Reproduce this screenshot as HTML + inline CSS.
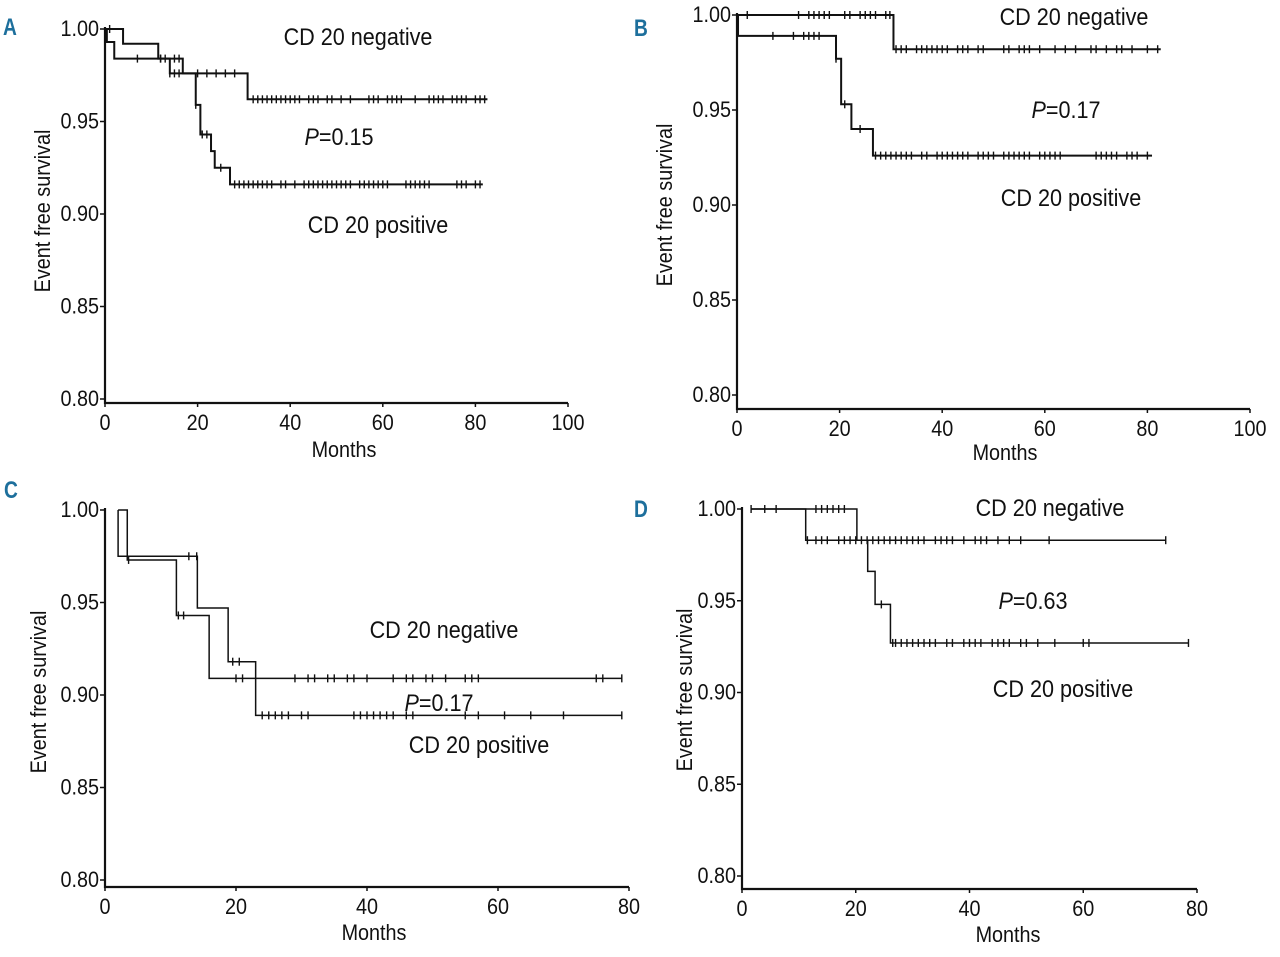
<!DOCTYPE html>
<html><head><meta charset="utf-8"><style>
html,body{margin:0;padding:0;background:#fff;}
svg{display:block;}
</style></head><body>
<svg id="fig" width="1280" height="957" viewBox="0 0 1280 957" xmlns="http://www.w3.org/2000/svg"></svg>
<script>
// ---- Data: panel A ----
const aNegSteps = [[0,1.0],[3.9,0.992],[11.5,0.984],[16.8,0.976],[30.8,0.962]];
const aNegEnd = 82.6;
const aNegCensor = [1,12,15,16,20,22,24,26,28,32,33,34,35,36,37,38,39,40,41,42,44,45,46,48,49,51,53,57,58,59,61,62,63,64,67,70,71,72,73,75,76,77,78,80,81,82];
const aPosSteps = [[0,1.0],[0.4,0.993],[2,0.984],[14,0.976],[19.6,0.959],[20.6,0.943],[22.9,0.934],[23.7,0.925],[27,0.916]];
const aPosEnd = 81.6;
const aPosCensor = [7,12,13,14,15,16,19.6,21,22,25,28,29,30,31,32,33,34,35,36,38,39,41,43,44,45,46,47,48,49,50,51,52,53,55,56,57,58,59,60,61,65,66,67,68,69,70,76,77,78,80,81];
// ---- Data: panel B ----
const bNegSteps = [[0,1.0],[30.5,0.982]];
const bNegEnd = 82.6;
const bNegCensor = [2,12,14,15,16,17,18,21,22,24,25,26,27,29,29.8,31,32,33,35,36,37,38,39,40,41,43,44,45,47,48,52,53,55,56,57,59,62,64,66,69,70,72,74,75,77,80,82];
const bPosSteps = [[0,1.0],[0.2,0.989],[19.3,0.977],[20.3,0.953],[22.3,0.940],[26.5,0.926]];
const bPosEnd = 80.9;
const bPosCensor = [7,11,13,14,15,16,19.3,21,24,27,28,29,30,31,32,33,34,36,37,39,40,41,42,43,44,45,47,48,49,50,52,53,54,55,56,57,59,60,61,62,63,70,71,72,73,74,76,77,78,80];
// ---- Data: panel C ----
const cNegSteps = [[2,1.0],[3.4,0.973],[10.9,0.943],[15.9,0.909]];
const cNegEnd = 78.9;
const cNegCensor = [3.6,11.2,12,20,21,29,31,32,34,35,37,38,40,44,46,47,49,50,52,55,56,57,75,76,78.9];
const cPosSteps = [[2,1.0],[2,0.975],[14.1,0.947],[18.8,0.918],[23,0.889]];
const cPosEnd = 78.9;
const cPosCensor = [12.8,14,19.5,20.5,24,25,26,27,28,30,31,38,39,40,41,42,43,44,46,47,55,57,61,65,70,78.9];
// ---- Data: panel D ----
const dNegSteps = [[1.6,1.0],[11.2,0.983]];
const dNegEnd = 74.5;
const dNegCensor = [1.6,4,6,11.5,13,14,15,17,18,19,20,21,23,24,25,26,27,28,29,30,31,32,34,35,36,37,39,41,42,43,45,47,49,54,74.5];
const dPosSteps = [[1.6,1.0],[20.2,0.983],[22.1,0.966],[23.4,0.948],[26.1,0.927]];
const dPosEnd = 78.5;
const dPosCensor = [13,14,15,16,17,18,22,24.5,26.5,27,28,29,30,31,32,33,34,36,37,39,40,41,42,44,45,46,47,49,50,52,55,60,61,78.5];

const yTicks = [1.00,0.95,0.90,0.85,0.80];
const yTickLabels = ["1.00","0.95","0.90","0.85","0.80"];
const xTicksAB = [0,20,40,60,80,100];
const xTicksCD = [0,20,40,60,80];

const svg = document.getElementById('fig');
const NS = 'http://www.w3.org/2000/svg';
function el(tag, attrs, parent){
  const e = document.createElementNS(NS, tag);
  for (const k in attrs) e.setAttribute(k, attrs[k]);
  (parent||svg).appendChild(e);
  return e;
}
function txt(parent, x, y, s, size, anchor, sx, extra){
  const t = document.createElementNS(NS,'text');
  t.setAttribute('transform', 'translate('+x+','+y+') '+(extra||'')+' scale('+sx+',1)');
  t.setAttribute('font-family','"Liberation Sans", Arial, sans-serif');
  t.setAttribute('font-size', size);
  t.setAttribute('text-anchor', anchor);
  t.setAttribute('fill','#111');
  t.textContent = s;
  parent.appendChild(t);
  return t;
}

function panel(cfg){
  const g = el('g', {});
  
  
  const X = m => cfg.x0 + (m / cfg.xmax) * (cfg.x1 - cfg.x0);
  const Y = s => cfg.y100 + ((1.0 - s) / 0.2) * (cfg.y80 - cfg.y100);
  const L = txt(g, cfg.letter[0], cfg.letter[1], cfg.letter[2], 24, 'start', 0.8);
  L.setAttribute('fill', '#1d6f9c'); L.setAttribute('font-weight','bold');
  
  
  const ax = el('path', {d:'M'+cfg.x0+','+(cfg.y100-2)+' L'+cfg.x0+','+cfg.axisY+' L'+cfg.x1+','+cfg.axisY, stroke:'#111', 'stroke-width':2.2, fill:'none'}, g);
  
  
  yTicks.forEach((v,i)=>{
    el('line',{x1:cfg.x0-5,x2:cfg.x0,y1:Y(v),y2:Y(v),stroke:'#111','stroke-width':1.5},g);
    const t = txt(g, cfg.x0-6, Y(v)+7, yTickLabels[i], 22, 'end', 0.9);
    
    
  });
  cfg.xticks.forEach(v=>{
    el('line',{x1:X(v),x2:X(v),y1:cfg.axisY,y2:cfg.axisY+4,stroke:'#111','stroke-width':1.5},g);
    const t = txt(g, X(v), cfg.axisY+27, String(v), 22, 'middle', 0.9);
    
    
  });
  const xt = txt(g, cfg.months[0], cfg.months[1], 'Months', 22, 'middle', 0.9);
  
  
  const yt = txt(g, cfg.ytitle[0], cfg.ytitle[1], 'Event free survival', 22, 'middle', 0.9, 'rotate(-90)');
  
  
  cfg.series.forEach(sr=>{
    const st = sr.steps;
    let d = 'M'+X(st[0][0])+','+Y(st[0][1]);
    for (let i=1;i<st.length;i++){
      d += ' L'+X(st[i][0])+','+Y(st[i-1][1])+' L'+X(st[i][0])+','+Y(st[i][1]);
    }
    d += ' L'+X(sr.end)+','+Y(st[st.length-1][1]);
    const p = el('path',{d:d,stroke:'#111','stroke-width':cfg.sw,fill:'none'},g);
    
    
    const surv = m => { let s = st[0][1]; for (const [t,v] of st) if (t<=m) s=v; return s; };
    sr.censor.forEach(m=>{
      const c = el('line',{x1:X(m),x2:X(m),y1:Y(surv(m))-4,y2:Y(surv(m))+4,stroke:'#111','stroke-width':1.4},g);
      
      
    });
  });
  cfg.labels.forEach(l=>{
    const t = txt(g, l[0], l[1], l[2], 24, 'middle', 0.9);
    
    
    if (l[2].startsWith('P=')){
      t.textContent = '';
      const i1 = document.createElementNS(NS,'tspan'); i1.setAttribute('font-style','italic'); i1.textContent='P';
      const i2 = document.createElementNS(NS,'tspan'); i2.textContent=l[2].slice(1);
      t.appendChild(i1); t.appendChild(i2);
    }
  });
}

panel({name:'panel-a', x0:105, x1:568, xmax:100, y100:29, y80:399, axisY:403, sw:2,
  xticks:xTicksAB, letter:[3,35,'A'], months:[344,457], ytitle:[50,211],
  series:[{name:'cd20-negative-curve',steps:aNegSteps,end:aNegEnd,censor:aNegCensor},
          {name:'cd20-positive-curve',steps:aPosSteps,end:aPosEnd,censor:aPosCensor}],
  labels:[[358,45,'CD 20 negative','label-negative'],[339,145,'P=0.15','p-value'],[378,233,'CD 20 positive','label-positive']]});
panel({name:'panel-b', x0:737, x1:1250, xmax:100, y100:15, y80:395, axisY:409, sw:2,
  xticks:xTicksAB, letter:[634,36,'B'], months:[1005,460], ytitle:[672,205],
  series:[{name:'cd20-negative-curve',steps:bNegSteps,end:bNegEnd,censor:bNegCensor},
          {name:'cd20-positive-curve',steps:bPosSteps,end:bPosEnd,censor:bPosCensor}],
  labels:[[1074,25,'CD 20 negative','label-negative'],[1066,118,'P=0.17','p-value'],[1071,206,'CD 20 positive','label-positive']]});
panel({name:'panel-c', x0:105, x1:629, xmax:80, y100:510, y80:880, axisY:887, sw:1.5,
  xticks:xTicksCD, letter:[4,498,'C'], months:[374,940], ytitle:[46,692],
  series:[{name:'cd20-negative-curve',steps:cNegSteps,end:cNegEnd,censor:cNegCensor},
          {name:'cd20-positive-curve',steps:cPosSteps,end:cPosEnd,censor:cPosCensor}],
  labels:[[444,638,'CD 20 negative','label-negative'],[439,711,'P=0.17','p-value'],[479,753,'CD 20 positive','label-positive']]});
panel({name:'panel-d', x0:742, x1:1197, xmax:80, y100:509, y80:876, axisY:889, sw:1.5,
  xticks:xTicksCD, letter:[634,517,'D'], months:[1008,942], ytitle:[692,690],
  series:[{name:'cd20-negative-curve',steps:dNegSteps,end:dNegEnd,censor:dNegCensor},
          {name:'cd20-positive-curve',steps:dPosSteps,end:dPosEnd,censor:dPosCensor}],
  labels:[[1050,516,'CD 20 negative','label-negative'],[1033,609,'P=0.63','p-value'],[1063,697,'CD 20 positive','label-positive']]});
</script>
</body></html>
